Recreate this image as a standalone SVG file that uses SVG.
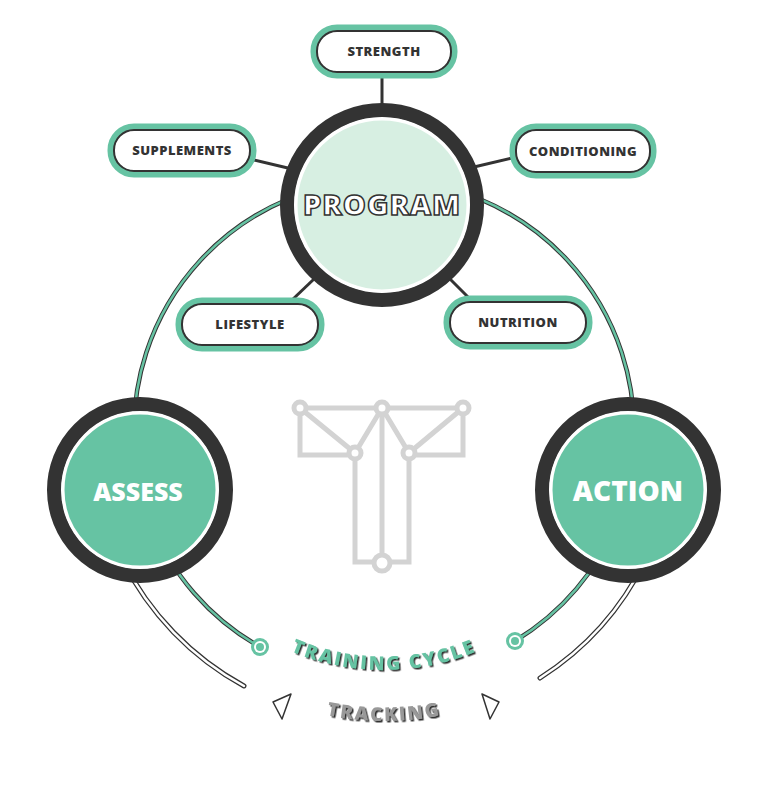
<svg xmlns="http://www.w3.org/2000/svg" width="768" height="790" viewBox="0 0 768 790">
<style>
.pillo{fill:#fff;stroke:#66c3a3;stroke-width:7}
.pilli{fill:none;stroke:#333;stroke-width:2}
.pt{font-family:"Open Sans",sans-serif;font-weight:800;font-size:13px;fill:#333;text-anchor:middle;letter-spacing:0.5px}
.ln{stroke:#333;stroke-width:3;fill:none}
.tdark{fill:none;stroke:#333;stroke-width:4.5}
.tteal{fill:none;stroke:#66c3a3;stroke-width:2.5}
.wdark{fill:none;stroke:#333;stroke-width:5;stroke-linecap:round}
.wwhite{fill:none;stroke:#fff;stroke-width:2.5;stroke-linecap:round}
.logo{fill:none;stroke:#d3d3d3;stroke-width:5}
.lc{fill:#fff;stroke:#d3d3d3;stroke-width:5}
.big{font-family:"Open Sans",sans-serif;font-weight:800;text-anchor:middle}
</style>
<defs>
<path id="p1" d="M144,430 A240,240 0 0 0 624,430"/>
<path id="p2" d="M93,430 A291,291 0 0 0 675,430"/>
<filter id="sh" x="-10%" y="-10%" width="120%" height="140%"><feDropShadow dx="1.5" dy="1.5" stdDeviation="0" flood-color="#333"/></filter>
</defs>
<rect width="768" height="790" fill="#fff"/>
<g id="logo">
<path class="logo" d="M300,408 H463 V455 H409 M300,408 V455 H355 M300,408 L355,453 M463,408 L409,453 M382,408 L355,453 M382,408 L409,453 M382,408 V563 M355,453 V562 H409 V453"/>
<circle class="lc" cx="300" cy="408" r="6"/>
<circle class="lc" cx="382" cy="408" r="6"/>
<circle class="lc" cx="463" cy="408" r="6"/>
<circle class="lc" cx="355" cy="453" r="6"/>
<circle class="lc" cx="409" cy="453" r="6"/>
<circle class="lc" cx="382" cy="563" r="8"/>
</g>
<g id="connectors">
<path class="tdark" d="M134.8,450 A250,250 0 1 1 633.2,450"/>
<path class="tteal" d="M134.8,450 A250,250 0 1 1 633.2,450"/>
<path class="tdark" d="M150,520 A250,250 0 0 0 260,647"/>
<path class="tteal" d="M150,520 A250,250 0 0 0 260,647"/>
<path class="tdark" d="M515,641 A250,250 0 0 0 618,520"/>
<path class="tteal" d="M515,641 A250,250 0 0 0 618,520"/>
<path class="wdark" d="M122.5,560 A292,292 0 0 0 244,686"/>
<path class="wwhite" d="M122.5,560 A292,292 0 0 0 244,686"/>
<path class="wdark" d="M540,678 A292,292 0 0 0 645.5,560"/>
<path class="wwhite" d="M540,678 A292,292 0 0 0 645.5,560"/>
<line class="ln" x1="382" y1="76" x2="382" y2="106"/>
<line class="ln" x1="254" y1="160" x2="292" y2="169"/>
<line class="ln" x1="512" y1="158" x2="474" y2="167"/>
<line class="ln" x1="292" y1="300" x2="314" y2="279"/>
<line class="ln" x1="450" y1="279" x2="470" y2="299"/>
<circle cx="260" cy="647" r="9" fill="#66c3a3"/><circle cx="260" cy="647" r="6" fill="#fff"/><circle cx="260" cy="647" r="4" fill="#66c3a3"/>
<circle cx="515" cy="641" r="9" fill="#66c3a3"/><circle cx="515" cy="641" r="6" fill="#fff"/><circle cx="515" cy="641" r="4" fill="#66c3a3"/>
<polygon points="273,702 291,694 282,719" fill="#fff" stroke="#333" stroke-width="1.5" stroke-linejoin="round"/>
<polygon points="482,694 499,702 490,719" fill="#fff" stroke="#333" stroke-width="1.5" stroke-linejoin="round"/>
</g>
<g id="labels">
<text class="big" font-size="19" fill="#66c3a3" letter-spacing="2.2" filter="url(#sh)"><textPath href="#p1" startOffset="50%">TRAINING CYCLE</textPath></text>
<text class="big" font-size="19" fill="#999" letter-spacing="2" filter="url(#sh)"><textPath href="#p2" startOffset="50%">TRACKING</textPath></text>
</g>
<g id="program">
<circle cx="382" cy="205" r="95" fill="#fff" stroke="#333" stroke-width="14"/>
<circle cx="382" cy="205" r="86" fill="#d7efe2" stroke="#fff" stroke-width="3"/>
<text class="big" x="382" y="215" font-size="29" fill="#fff" stroke="#333" stroke-width="1.5" letter-spacing="1">PROGRAM</text>
</g>
<g id="assess">
<circle cx="140" cy="490" r="86" fill="#fff" stroke="#333" stroke-width="14"/>
<circle cx="140" cy="490" r="77" fill="#66c3a3" stroke="#fff" stroke-width="3"/>
<text class="big" x="138" y="501" font-size="25" fill="#fff">ASSESS</text>
</g>
<g id="action">
<circle cx="628" cy="490" r="86" fill="#fff" stroke="#333" stroke-width="14"/>
<circle cx="628" cy="490" r="77" fill="#66c3a3" stroke="#fff" stroke-width="3"/>
<text class="big" x="628" y="501" font-size="28" fill="#fff">ACTION</text>
</g>
<g id="strength"><rect class="pillo" x="314" y="28" width="140" height="47" rx="23"/><rect class="pilli" x="317" y="31" width="134" height="41" rx="20"/><text class="pt" x="384" y="56">STRENGTH</text></g>
<g id="supplements"><rect class="pillo" x="111" y="127" width="142" height="47" rx="23"/><rect class="pilli" x="114" y="130" width="136" height="41" rx="20"/><text class="pt" x="182" y="155">SUPPLEMENTS</text></g>
<g id="conditioning"><rect class="pillo" x="513" y="127" width="140" height="48" rx="23"/><rect class="pilli" x="516" y="130" width="134" height="42" rx="20"/><text class="pt" x="583" y="156">CONDITIONING</text></g>
<g id="lifestyle"><rect class="pillo" x="179" y="301" width="142" height="47" rx="23"/><rect class="pilli" x="182" y="304" width="136" height="41" rx="20"/><text class="pt" x="250" y="329">LIFESTYLE</text></g>
<g id="nutrition"><rect class="pillo" x="447" y="299" width="142" height="47" rx="23"/><rect class="pilli" x="450" y="302" width="136" height="41" rx="20"/><text class="pt" x="518" y="327">NUTRITION</text></g>
</svg>
